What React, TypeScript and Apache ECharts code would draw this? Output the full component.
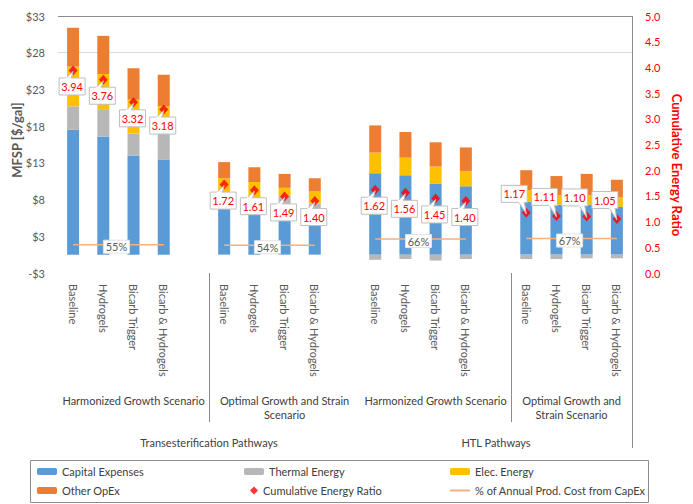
import React, { useEffect, useRef } from 'react';
import * as echarts from 'echarts';

const FONT = 'Lato, "Open Sans", sans-serif';

// ---- data ----
const scenarioLabels = ['Baseline', 'Hydrogels', 'Bicarb Trigger', 'Bicarb & Hydrogels'];
const categories = [...scenarioLabels, '', ...scenarioLabels, '', ...scenarioLabels, '', ...scenarioLabels];

const capitalExpenses = [17.0, 16.1, 13.5, 12.9, null, 6.6, 6.1, 5.8, 5.3, null, 11.1, 10.8, 9.7, 9.3, null, 7.2, 6.8, 6.8, 6.5];
const thermalEnergy = [3.2, 3.7, 3.0, 4.4, null, 1.4, 1.4, 2.2, 1.7, null, -0.7, -0.6, -0.8, -0.6, null, -0.6, -0.6, -0.5, -0.5];
const elecEnergy = [5.4, 4.8, 4.6, 2.9, null, 2.4, 2.4, 1.1, 1.6, null, 2.8, 2.4, 2.3, 2.1, null, 1.6, 1.3, 1.3, 1.3];
const otherOpEx = [5.3, 5.2, 4.3, 4.3, null, 2.2, 2.0, 1.9, 1.8, null, 3.7, 3.5, 3.3, 3.2, null, 2.7, 2.6, 2.9, 2.4];
const energyRatio = [3.94, 3.76, 3.32, 3.18, null, 1.72, 1.61, 1.49, 1.40, null, 1.62, 1.56, 1.45, 1.40, null, 1.17, 1.11, 1.10, 1.05];
const capexShare = [0.55, 0.55, 0.55, 0.55, null, 0.54, 0.54, 0.54, 0.54, null, 0.66, 0.66, 0.66, 0.66, null, 0.67, 0.67, 0.67, 0.67];

const scenarioGroups = [
  { name: 'Harmonized Growth Scenario', start: 0, end: 4 },
  { name: 'Optimal Growth and Strain\nScenario', start: 5, end: 9 },
  { name: 'Harmonized Growth Scenario', start: 10, end: 14 },
  { name: 'Optimal Growth and\nStrain Scenario', start: 15, end: 18 },
];
const pathwayGroups = [
  { name: 'Transesterification Pathways', start: 0, end: 9 },
  { name: 'HTL Pathways', start: 10, end: 18 },
];

const leftTicksMin = -2.5;
const leftTicksMax = 32.5;

export default function App() {
  const ref = useRef<HTMLDivElement>(null);

  useEffect(() => {
    if (!ref.current) return;
    const chart = echarts.init(ref.current, null, { renderer: 'svg' });

    const ratioData = energyRatio
      .map((v, i) => (v == null ? null : [i, v]))
      .filter((d) => d != null);
    const pctData = scenarioGroups.map((g) => [g.start + 1, g.start + 2, capexShare[g.start] as number]);
    const upFrom = scenarioGroups[3].start;

    const legendCommon = {
      orient: 'horizontal',
      itemWidth: 20,
      itemHeight: 7,
      padding: 0,
      selectedMode: false,
      textStyle: { fontSize: 11, color: '#404040', fontFamily: FONT },
    };
    const row1 = 466;
    const row2 = 485;

    const option: any = {
      animation: false,
      backgroundColor: '#ffffff',
      textStyle: { fontFamily: FONT },
      grid: { left: 58, right: 61, top: 16, bottom: 231, containLabel: false },
      legend: [
        { ...legendCommon, left: 37, top: row1, data: ['Capital Expenses'] },
        { ...legendCommon, left: 37, top: row2, data: ['Other OpEx'] },
        { ...legendCommon, left: 244, top: row1, data: ['Thermal Energy'] },
        { ...legendCommon, left: 250, top: row2, itemWidth: 8, itemHeight: 8, data: [{ name: 'Cumulative Energy Ratio', icon: 'diamond' }] },
        { ...legendCommon, left: 450, top: row1, data: ['Elec. Energy'] },
        { ...legendCommon, left: 450, top: row2, itemHeight: 2, data: [{ name: '% of Annual Prod. Cost from CapEx', icon: 'rect' }] },
      ],
      xAxis: {
        type: 'category',
        data: categories,
        boundaryGap: true,
        axisLine: { show: false },
        axisTick: { show: false },
        axisLabel: {
          interval: 0,
          rotate: -90,
          margin: 11,
          color: '#595959',
          fontSize: 11,
          fontFamily: FONT,
        },
      },
      yAxis: [
        {
          type: 'value',
          min: leftTicksMin,
          max: leftTicksMax,
          interval: 5,
          axisLine: { show: false },
          axisTick: { show: false },
          axisLabel: {
            margin: 13,
            color: '#595959',
            fontSize: 11,
            fontFamily: FONT,
            formatter: (v: number) => {
              const r = Math.sign(v) * Math.round(Math.abs(v));
              return (r < 0 ? '-$' : '$') + Math.abs(r);
            },
          },
          splitLine: {
            show: true,
            lineStyle: {
              color: ['rgba(0,0,0,0)', 'rgba(0,0,0,0)', 'rgba(0,0,0,0)', 'rgba(0,0,0,0)', 'rgba(0,0,0,0)', 'rgba(0,0,0,0)', '#D9D9D9', '#8C8C8C'],
              width: 1,
            },
          },
        },
        {
          type: 'value',
          min: 0,
          max: 5,
          interval: 0.5,
          position: 'right',
          axisLine: { show: false },
          axisTick: { show: false },
          splitLine: { show: false },
          axisLabel: {
            margin: 13,
            color: '#FF0000',
            fontSize: 11,
            fontFamily: FONT,
            formatter: (v: number) => v.toFixed(1),
          },
        },
      ],
      series: [
        { name: 'Capital Expenses', type: 'bar', stack: 'cost', barWidth: 12, data: capitalExpenses, itemStyle: { color: '#5B9BD5' }, z: 2 },
        { name: 'Thermal Energy', type: 'bar', stack: 'cost', barWidth: 12, data: thermalEnergy, itemStyle: { color: '#B7B7B7' }, z: 2 },
        { name: 'Elec. Energy', type: 'bar', stack: 'cost', barWidth: 12, data: elecEnergy, itemStyle: { color: '#FFC000' }, z: 2 },
        { name: 'Other OpEx', type: 'bar', stack: 'cost', barWidth: 12, data: otherOpEx, itemStyle: { color: '#ED7D31' }, z: 2 },
        {
          name: '% of Annual Prod. Cost from CapEx',
          type: 'line',
          yAxisIndex: 1,
          data: capexShare,
          symbol: 'none',
          connectNulls: false,
          lineStyle: { color: '#F4B183', width: 1.5 },
          itemStyle: { color: '#F4B183' },
          z: 3,
        },
        {
          name: 'pct-labels',
          type: 'custom',
          yAxisIndex: 1,
          data: pctData,
          encode: { x: [0, 1], y: 2 },
          z: 4,
          renderItem: (params: any, api: any) => {
            const a = api.coord([api.value(0), api.value(2)]);
            const b = api.coord([api.value(1), api.value(2)]);
            const cx = (a[0] + b[0]) / 2 - 2;
            const cy = a[1] + 2;
            const w = 26;
            const h = 13;
            return {
              type: 'group',
              children: [
                { type: 'rect', shape: { x: cx - w / 2, y: cy - h / 2, width: w, height: h }, style: { fill: '#fff', stroke: '#E3E3E3', lineWidth: 1 } },
                {
                  type: 'text',
                  style: { text: Math.round(api.value(2) * 100) + '%', x: cx, y: cy, align: 'center', verticalAlign: 'middle', fill: '#595959', font: `11px ${FONT}` },
                },
              ],
            };
          },
        },
        {
          name: 'Cumulative Energy Ratio',
          type: 'scatter',
          yAxisIndex: 1,
          data: ratioData,
          symbol: 'diamond',
          symbolSize: [9, 10],
          itemStyle: { color: '#FF0000' },
          z: 5,
        },
        {
          name: 'ratio-callouts',
          type: 'custom',
          yAxisIndex: 1,
          data: ratioData,
          z: 6,
          renderItem: (params: any, api: any) => {
            const idx = api.value(0);
            const v = api.value(1);
            const p = api.coord([idx, v]);
            const x = p[0];
            const y = p[1];
            const up = idx >= upFrom;
            const w = 26;
            const h = 17;
            const cx = up ? x - 12 : x - 1;
            const cy = up ? y - 19 : y + 16;
            const edgeY = up ? cy + h / 2 : cy - h / 2;
            const wedge = up
              ? [[cx + 4, edgeY - 1], [cx + 10, edgeY - 1], [x, y + 1]]
              : [[cx - 7, edgeY + 1], [cx - 1, edgeY + 1], [x, y + 1]];
            return {
              type: 'group',
              children: [
                { type: 'polygon', shape: { points: wedge }, style: { fill: '#fff', stroke: '#BFBFBF', lineWidth: 1 } },
                { type: 'rect', shape: { x: cx - w / 2, y: cy - h / 2, width: w, height: h }, style: { fill: '#fff', stroke: '#BFBFBF', lineWidth: 1 } },
                { type: 'polygon', shape: { points: up ? [[cx + 4.5, edgeY - 1.5], [cx + 9.5, edgeY - 1.5], [cx + 9.5, edgeY + 0.5], [cx + 4.5, edgeY + 0.5]] : [[cx - 6.5, edgeY - 0.5], [cx - 1.5, edgeY - 0.5], [cx - 1.5, edgeY + 1.5], [cx - 6.5, edgeY + 1.5]] }, style: { fill: '#fff' } },
                { type: 'text', style: { text: v.toFixed(2), x: cx, y: cy, align: 'center', verticalAlign: 'middle', fill: '#FF0000', font: `11px ${FONT}` } },
              ],
            };
          },
        },
      ],
    };

    chart.setOption(option);

    // Multi-level category labels and frame, positioned through the axis scale
    const px = (i: number) => chart.convertToPixel({ xAxisIndex: 0 }, i) as number;
    const cw = px(1) - px(0);
    const lx = (i: number) => px(i) - cw / 2;
    const rx = (i: number) => px(i) + cw / 2;
    const gridTop = chart.convertToPixel({ yAxisIndex: 0 }, leftTicksMax) as number;
    const gridBottom = chart.convertToPixel({ yAxisIndex: 0 }, leftTicksMin) as number;
    const gridRight = rx(categories.length - 1);

    const graphics: any[] = [];
    scenarioGroups.forEach((g) => {
      graphics.push({
        type: 'text',
        style: { text: g.name, x: (lx(g.start) + rx(g.end)) / 2, y: 393, align: 'center', verticalAlign: 'top', lineHeight: 14, fill: '#404040', font: `11px ${FONT}` },
      });
      const isPathwayStart = pathwayGroups.some((p) => p.start === g.start);
      if (!isPathwayStart) {
        const sx = Math.round(lx(g.start)) + 0.5;
        graphics.push({ type: 'line', shape: { x1: sx, y1: gridBottom, x2: sx, y2: 422 }, style: { stroke: '#8C8C8C', lineWidth: 1 } });
      }
    });
    pathwayGroups.forEach((g) => {
      graphics.push({
        type: 'text',
        style: { text: g.name, x: (lx(g.start) + rx(g.end)) / 2, y: 442, align: 'center', verticalAlign: 'middle', fill: '#404040', font: `11px ${FONT}` },
      });
    });
    const rxl = Math.round(gridRight) + 0.5;
    graphics.push({ type: 'line', shape: { x1: rxl, y1: gridTop, x2: rxl, y2: 448 }, style: { stroke: '#8C8C8C', lineWidth: 1 } });
    graphics.push({ type: 'rect', shape: { x: 30.5, y: 460.5, width: 618, height: 42 }, style: { fill: 'none', stroke: '#8C8C8C', lineWidth: 1 } });
    graphics.push({
      type: 'text',
      rotation: Math.PI / 2,
      x: 17,
      y: 140,
      style: { text: 'MFSP [$/gal]', x: 0, y: 0, align: 'center', verticalAlign: 'middle', fill: '#595959', font: `bold 13px ${FONT}` },
    });
    graphics.push({
      type: 'text',
      rotation: -Math.PI / 2,
      x: 677,
      y: 165,
      style: { text: 'Cumulative Energy Ratio', x: 0, y: 0, align: 'center', verticalAlign: 'middle', fill: '#FF0000', font: `bold 13px ${FONT}` },
    });
    chart.setOption({ graphic: graphics });

    return () => chart.dispose();
  }, []);

  return (
    <div
      ref={ref}
      style={{ position: 'absolute', left: 0, top: 0, width: 693, height: 504, background: '#fff' }}
    />
  );
}
